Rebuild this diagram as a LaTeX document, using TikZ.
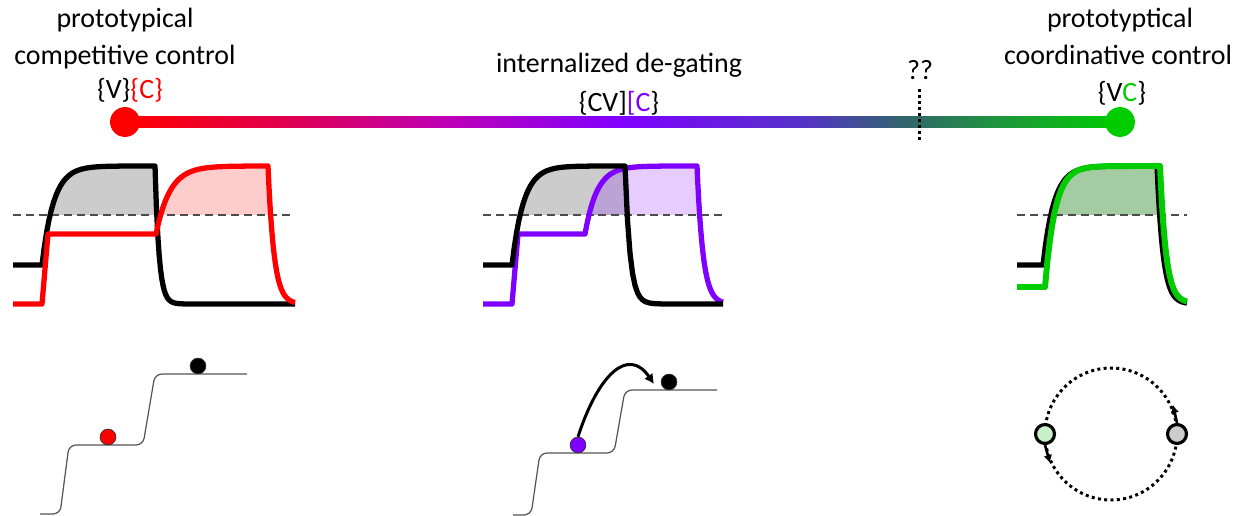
\documentclass[tikz,border=0pt]{standalone}
\usepackage{fontspec}
\setmainfont{Carlito}
\usetikzlibrary{arrows.meta}
\definecolor{compred}{RGB}{255,0,0}
\definecolor{degpurple}{RGB}{128,0,255}
\definecolor{coordgreen}{RGB}{0,204,0}
\definecolor{barA}{RGB}{220,0,90}
\definecolor{barB}{RGB}{190,0,180}
\definecolor{barC}{RGB}{85,50,200}
\definecolor{barD}{RGB}{50,100,110}
\definecolor{barE}{RGB}{30,150,60}
\definecolor{stairgray}{RGB}{85,85,85}
\definecolor{lightgreen}{RGB}{200,240,200}
\pgfdeclarehorizontalshading{spectrum}{100bp}{color(0bp)=(compred); color(25bp)=(compred); color(34bp)=(barA); color(41bp)=(barB); color(50bp)=(degpurple); color(59bp)=(barC); color(64bp)=(barD); color(69bp)=(barE); color(75bp)=(coordgreen); color(100bp)=(coordgreen)}

\begin{document}
\begin{tikzpicture}[x=0.02cm,y=-0.02cm]
        \tikzset{lbl/.style={anchor=base,inner sep=0pt,font=\fontsize{15.9}{19}\selectfont},
            enddot/.style={circle,inner sep=0pt,minimum size=17pt},
            curve/.style={line width=3pt,line join=round},
            thresh/.style={draw=black!70,line width=0.6pt,dash pattern=on 4.5pt off 2.8pt},
            stair/.style={draw=stairgray,line width=0.7pt,rounded corners=4pt},
            ball/.style={circle,draw=black!80,line width=0.4pt,inner sep=0pt,minimum size=9pt},
            orbball/.style={circle,draw,line width=1.8pt,inner sep=0pt,minimum size=10.8pt},
            jump/.style={line width=1.7pt,-{Latex[length=5.5pt,width=6pt]}},
            spin/.style={line width=1.5pt,-{Latex[length=4.5pt,width=5pt]}},
            orbit/.style={line width=1.7pt,dash pattern=on 1.7pt off 1.9pt}}
        \useasboundingbox (0,0) rectangle (1247,516);
        % titles
        \node[lbl] (compname1) at (125,28) {prototypical};
        \node[lbl] (compname2) at (125,65) {competitive control};
        \node[lbl] (compset) at (130,99) {\{V\}\textcolor{compred}{\{C\}}};
        \node[lbl] (degname) at (619,73) {internalized de-gating};
        \node[lbl] (degset) at (619,112) {\{CV]\textcolor{degpurple}{[C}\}};
        \node[lbl] (unknown) at (920,80) {??};
        \node[lbl] (coordname1) at (1120,28) {prototyptical};
        \node[lbl] (coordname2) at (1118,65) {coordinative control};
        \node[lbl] (coordset) at (1122,102) {\{V\textcolor{coordgreen}{C}\}};
        % spectrum bar
        \coordinate (barstart) at (125,122);
        \coordinate (barend) at (1120,122);
        \shade[shading=spectrum] ([yshift=2.85pt]barstart) rectangle ([yshift=-2.85pt]barend);
        \node[enddot,fill=compred] (compdot) at (barstart) {};
        \node[enddot,fill=coordgreen] (coorddot) at (barend) {};
        \coordinate (unknowntop) at (919,89);
        \coordinate (unknownbot) at (919,141);
        \draw[line width=1.7pt,dash pattern=on 1.7pt off 1.7pt] (unknowntop) -- (unknownbot);
        % shaded areas above threshold
        \begin{scope}
            \clip (0,150) rectangle (1247,215);
            \fill[black,fill opacity=.2] (42,265) -- plot[domain=0:113,samples=50] ({42+\x},{166+99*exp(-\x/11.5)}) -- plot[domain=0:20,samples=20] ({155+\x},{304-138*exp(-\x/4)}) -- cycle;
            \fill[compred,fill opacity=.2] (156,234) -- plot[domain=0:112,samples=50] ({156+\x},{166+68*exp(-\x/14)}) -- plot[domain=0:20,samples=20] ({268+\x},{304-138*exp(-\x/6)}) -- cycle;
            \fill[black,fill opacity=.2] (512,265) -- plot[domain=0:113,samples=50] ({512+\x},{166+99*exp(-\x/11.5)}) -- plot[domain=0:20,samples=20] ({625+\x},{304-138*exp(-\x/5)}) -- cycle;
            \fill[degpurple,fill opacity=.2] (585,234) -- plot[domain=0:112,samples=50] ({585+\x},{166+68*exp(-\x/12)}) -- plot[domain=0:20,samples=20] ({697+\x},{304-138*exp(-\x/6)}) -- cycle;
            \fill[black,fill opacity=.2] (1043,265) -- plot[domain=0:114,samples=50] ({1043+\x},{166+99*exp(-\x/11)}) -- plot[domain=0:20,samples=20] ({1157+\x},{304-138*exp(-\x/6)}) -- cycle;
            \fill[coordgreen,fill opacity=.2] (1045,287) -- plot[domain=0:115,samples=50] ({1045+\x},{166+121*exp(-\x/10)}) -- plot[domain=0:20,samples=20] ({1160+\x},{303-137*exp(-\x/6)}) -- cycle;
        \end{scope}
        \draw[thresh] (13,215) -- (293,215);
        \draw[thresh] (483,215) -- (723,215);
        \draw[thresh] (1017,215) -- (1187,215);
        % competitive
        \draw[curve] (13,265) -- (42,265) -- plot[domain=0:113,samples=50] ({42+\x},{166+99*exp(-\x/11.5)}) -- plot[domain=0:40,samples=30] ({155+\x},{304-138*exp(-\x/4)}) -- (295,304);
        \draw[curve,compred] (13,304) -- (42,304) -- (48,234) -- (156,234) -- plot[domain=0:112,samples=50] ({156+\x},{166+68*exp(-\x/14)}) -- plot[domain=0:27,samples=30] ({268+\x},{304-138*exp(-\x/6)});
        % de-gating
        \draw[curve,degpurple] (483,304) -- (512,304) -- (518,234) -- (585,234) -- plot[domain=0:112,samples=50] ({585+\x},{166+68*exp(-\x/12)}) -- plot[domain=0:26,samples=30] ({697+\x},{304-138*exp(-\x/6)});
        \draw[curve] (483,265) -- (512,265) -- plot[domain=0:113,samples=50] ({512+\x},{166+99*exp(-\x/11.5)}) -- plot[domain=0:98,samples=40] ({625+\x},{304-138*exp(-\x/5)});
        % coordinative
        \draw[curve] (1017,265) -- (1043,265) -- plot[domain=0:114,samples=50] ({1043+\x},{166+99*exp(-\x/11)}) -- plot[domain=0:30,samples=30] ({1157+\x},{304-138*exp(-\x/6)});
        \draw[curve,coordgreen,line width=3.4pt] (1017,287) -- (1045,287) -- plot[domain=0:115,samples=50] ({1045+\x},{166+121*exp(-\x/10)}) -- plot[domain=0:27,samples=30] ({1160+\x},{303-137*exp(-\x/6)});
        % stairs
        \draw[stair] (40,514) -- (60,514) -- (69,445) -- (143,445) -- (155,374) -- (247,374);
        \node[ball,fill=compred] (compball) at (108,437) {};
        \node[ball,fill=black] (compblack) at (198,366) {};
        \draw[stair] (513,515) -- (531,515) -- (540,453) -- (614,453) -- (625,390) -- (717,390);
        \node[ball,fill=degpurple] (degball) at (578,445) {};
        \node[ball,fill=black] (degblack) at (669,382) {};
        \coordinate (hoptarget) at (654,384);
        \draw[jump] (degball.north) .. controls (598,375) and (628,346) .. (hoptarget);
        % orbit
        \draw[orbit] (1111,434) circle (66);
        \node[orbball,fill=lightgreen] (greenosc) at (1045,434) {};
        \node[orbball,fill=black!20] (grayosc) at (1177,434) {};
        \coordinate (greentip) at (1050,463);
        \coordinate (graytip) at (1173,405);
        \draw[spin] (greenosc.south) -- (greentip);
        \draw[spin] (grayosc.north) -- (graytip);
\end{tikzpicture}
\end{document}
